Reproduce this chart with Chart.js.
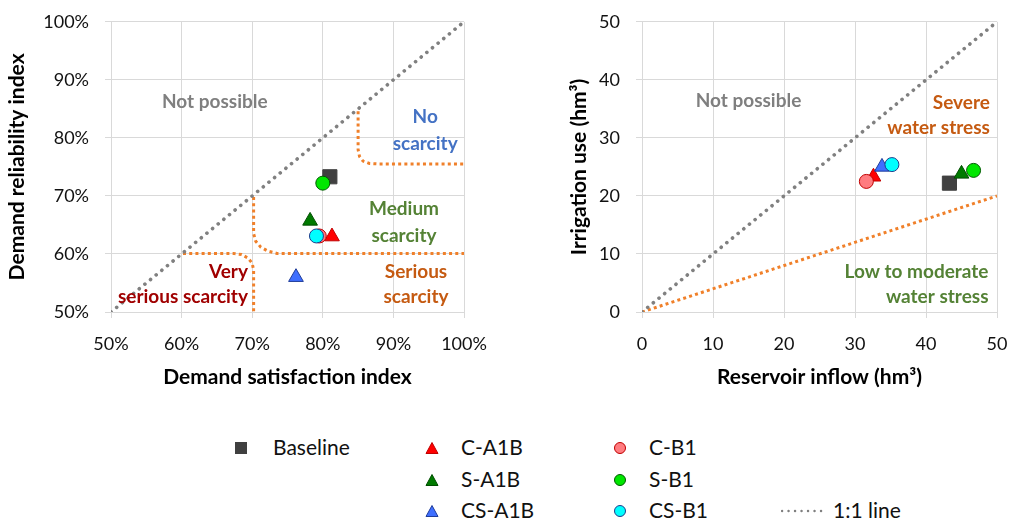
<!DOCTYPE html>
<html>
<head>
<meta charset="utf-8">
<script src="https://cdn.jsdelivr.net/npm/chart.js@4"></script>
<style>
  body { margin: 0; background: #fff; font-family: Lato, sans-serif; }
  #wrap { position: relative; width: 1011px; height: 520px; overflow: hidden; }
  .box { position: absolute; top: -5px; height: 405px; }
  #leftBox { left: 0; width: 505px; }
  #rightBox { left: 505px; width: 520px; }
  .leg { position: absolute; font-size: 21px; color: #111; line-height: 22px; white-space: nowrap; }
  .leg svg { position: absolute; }
</style>
</head>
<body>
<div id="wrap">
  <div class="box" id="leftBox"><canvas id="leftChart"></canvas></div>
  <div class="box" id="rightBox"><canvas id="rightChart"></canvas></div>
  <div id="legend"></div>
</div>
<script>
// scenarios
const seriesNames = ["Baseline", "C-A1B", "S-A1B", "CS-A1B", "C-B1", "S-B1", "CS-B1"];
// left panel (%)
const satisfaction = [81.0, 81.3, 78.2, 76.2, 79.5, 80.0, 79.1];
const reliability = [73.3, 63.0, 65.7, 56.0, 63.1, 72.2, 63.1];
// right panel (hm3)
const inflow = [43.3, 32.6, 45.0, 33.8, 31.6, 46.7, 35.2];
const irrigation = [22.2, 23.3, 23.8, 25.0, 22.5, 24.4, 25.4];

const pctTicks = [50, 60, 70, 80, 90, 100];
const hmTicks = [0, 10, 20, 30, 40, 50];

// boundary lines, left panel
const oneToOneLeft = [[50, 50], [100, 100]];
const noScarcityEdge = [[85, 84.6], [85, 78], [85.2, 76.8], [85.7, 76.0], [86.6, 75.6], [88, 75.5], [100, 75.5]];
const mediumEdge = [[70.2, 69.8], [70.2, 63.5], [70.5, 62.2], [71.2, 61.2], [72.2, 60.5], [73.5, 60.1], [100, 60.1]];
const verySeriousEdge = [[60.2, 60.1], [67.3, 60.1], [68.5, 59.9], [69.4, 59.3], [70.0, 58.4], [70.2, 57.2], [70.2, 50]];
// boundary lines, right panel
const oneToOneRight = [[0, 0], [50, 50]];
const stressEdge = [[0, 0], [50, 20]];

// marker styles
const styles = [
  { shape: "rect", fill: "#404040", stroke: "#404040", r: 10 },
  { shape: "triangle", fill: "#ff0000", stroke: "#c00000", r: 8.5 },
  { shape: "triangle", fill: "#007a00", stroke: "#004d00", r: 8.5 },
  { shape: "triangle", fill: "#3f6fff", stroke: "#1f3c99", r: 8.5 },
  { shape: "circle", fill: "#ff7c80", stroke: "#c00000", r: 7 },
  { shape: "circle", fill: "#00e600", stroke: "#005a00", r: 7 },
  { shape: "circle", fill: "#00ffff", stroke: "#1f3c8c", r: 7 }
];

const toPts = arr => arr.map(p => ({ x: p[0], y: p[1] }));

function pointSets(xs, ys) {
  return seriesNames.map((name, i) => ({
    label: name,
    data: [{ x: xs[i], y: ys[i] }],
    pointStyle: styles[i].shape,
    pointRadius: styles[i].r,
    pointHoverRadius: styles[i].r,
    backgroundColor: styles[i].fill,
    borderColor: styles[i].stroke,
    borderWidth: 1,
    order: 20 - i
  }));
}

function lineSet(pts, color, dash, width, cap) {
  return {
    data: toPts(pts),
    showLine: true,
    pointRadius: 0,
    borderColor: color,
    borderWidth: width,
    borderDash: dash,
    borderCapStyle: cap,
    fill: false,
    order: 100
  };
}

const grayDots = ["#808080", [0.1, 7.2], 3.6, "round"];
const orangeDots = ["#f0802a", [3, 3.2], 3, "butt"];

const regionText = {
  id: "regionText",
  afterDatasetsDraw(chart, args, opts) {
    const { ctx, scales } = chart;
    ctx.save();
    ctx.font = "bold 19px Lato";
    ctx.textBaseline = "middle";
    for (const t of opts.items) {
      ctx.fillStyle = t.color;
      ctx.textAlign = t.align || "center";
      ctx.fillText(t.text, scales.x.getPixelForValue(t.x), scales.y.getPixelForValue(t.y));
    }
    ctx.restore();
  }
};

function baseOptions(cfg) {
  const tickFont = { family: "Lato", size: 18 };
  const titleFont = { family: "Lato", size: 21, weight: "bold" };
  return {
    responsive: true,
    maintainAspectRatio: false,
    animation: false,
    layout: { padding: cfg.padding },
    plugins: {
      legend: { display: false },
      tooltip: { enabled: false },
      regionText: { items: cfg.labels }
    },
    scales: {
      x: {
        type: "linear",
        min: cfg.xTicks[0], max: cfg.xTicks[cfg.xTicks.length - 1],
        afterBuildTicks: s => { s.ticks = cfg.xTicks.map(v => ({ value: v })); },
        afterFit: s => { s.height = 80; },
        grid: { color: "#d9d9d9", tickLength: 6, tickColor: "#d9d9d9" },
        border: { color: "#d9d9d9" },
        ticks: { font: tickFont, color: "#111", padding: 15, maxRotation: 0, callback: cfg.fmt },
        title: { display: true, text: cfg.xTitle, font: titleFont, color: "#000", padding: { top: 0, bottom: 2 } }
      },
      y: {
        type: "linear",
        min: cfg.yTicks[0], max: cfg.yTicks[cfg.yTicks.length - 1],
        afterBuildTicks: s => { s.ticks = cfg.yTicks.map(v => ({ value: v })); },
        afterFit: s => { s.width = cfg.yWidth; },
        grid: { color: "#d9d9d9", tickLength: 6, tickColor: "#d9d9d9" },
        border: { color: "#d9d9d9" },
        ticks: { font: tickFont, color: "#111", padding: 16, callback: cfg.fmt },
        title: { display: true, text: cfg.yTitle, font: titleFont, color: "#000", padding: { top: 2, bottom: 0 } }
      }
    }
  };
}

new Chart(document.getElementById("leftChart"), {
  type: "scatter",
  data: {
    datasets: [
      ...pointSets(satisfaction, reliability),
      lineSet(oneToOneLeft, ...grayDots),
      lineSet(noScarcityEdge, ...orangeDots),
      lineSet(mediumEdge, ...orangeDots),
      lineSet(verySeriousEdge, ...orangeDots)
    ]
  },
  options: baseOptions({
    padding: { left: 3, right: 41, top: 10, bottom: 8 },
    yWidth: 108,
    xTicks: pctTicks, yTicks: pctTicks,
    fmt: v => v + "%",
    xTitle: "Demand satisfaction index",
    yTitle: "Demand reliability index",
    labels: [
      { text: "Not possible", x: 64.7, y: 86.2, color: "#7f7f7f" },
      { text: "No", x: 94.5, y: 83.6, color: "#4472c4" },
      { text: "scarcity", x: 94.5, y: 79.0, color: "#4472c4" },
      { text: "Medium", x: 91.5, y: 67.8, color: "#548235" },
      { text: "scarcity", x: 91.5, y: 63.1, color: "#548235" },
      { text: "Serious", x: 93.2, y: 56.9, color: "#c55a11" },
      { text: "scarcity", x: 93.2, y: 52.6, color: "#c55a11" },
      { text: "Very", x: 69.4, y: 56.9, color: "#a00000", align: "right" },
      { text: "serious scarcity", x: 69.4, y: 52.6, color: "#a00000", align: "right" }
    ]
  }),
  plugins: [regionText]
});

new Chart(document.getElementById("rightChart"), {
  type: "scatter",
  data: {
    datasets: [
      ...pointSets(inflow, irrigation),
      lineSet(oneToOneRight, ...grayDots),
      lineSet(stressEdge, ...orangeDots)
    ]
  },
  options: baseOptions({
    padding: { left: 60, right: 28, top: 10, bottom: 8 },
    yWidth: 77,
    xTicks: hmTicks, yTicks: hmTicks,
    fmt: v => v,
    xTitle: "Reservoir inflow (hm\u00b3)",
    yTitle: "Irrigation use (hm\u00b3)",
    labels: [
      { text: "Not possible", x: 15.0, y: 36.3, color: "#7f7f7f" },
      { text: "Severe", x: 49.0, y: 36.1, color: "#c55a11", align: "right" },
      { text: "water stress", x: 49.0, y: 31.8, color: "#c55a11", align: "right" },
      { text: "Low to moderate", x: 48.8, y: 6.95, color: "#548235", align: "right" },
      { text: "water stress", x: 48.8, y: 2.6, color: "#548235", align: "right" }
    ]
  }),
  plugins: [regionText]
});

// legend below both panels
const legendSlots = [
  [241, 448], [432, 448], [620, 448],
  null,       [432, 480], [620, 480],
  null,       [432, 511], [620, 511]
];
const legendOrder = [0, 1, 4, -1, 2, 5, -1, 3, 6];
const legend = document.getElementById("legend");

function markerSvg(st) {
  let shape;
  if (st.shape === "rect") {
    shape = '<rect x="1" y="1" width="12" height="12" fill="' + st.fill + '"/>';
  } else if (st.shape === "triangle") {
    shape = '<polygon points="7,1.5 13,12.5 1,12.5" fill="' + st.fill + '" stroke="' + st.stroke + '" stroke-width="1"/>';
  } else {
    shape = '<circle cx="7" cy="7" r="5.5" fill="' + st.fill + '" stroke="' + st.stroke + '" stroke-width="1"/>';
  }
  return '<svg width="14" height="14" style="left:-7px;top:-7px">' + shape + '</svg>';
}

legendOrder.forEach((idx, k) => {
  if (idx < 0) return;
  const [cx, cy] = legendSlots[k];
  const item = document.createElement("div");
  item.className = "leg";
  item.style.left = cx + "px";
  item.style.top = cy + "px";
  const textOffset = idx === 0 ? 32 : 29;
  item.innerHTML = markerSvg(styles[idx]) +
    '<span style="position:absolute;left:' + textOffset + 'px;top:-12px">' + seriesNames[idx] + '</span>';
  legend.appendChild(item);
});

const lineItem = document.createElement("div");
lineItem.className = "leg";
lineItem.style.left = "781px";
lineItem.style.top = "511px";
lineItem.innerHTML = '<svg width="48" height="6" style="left:0;top:-3px">' +
  '<line x1="1" y1="3" x2="46" y2="3" stroke="#808080" stroke-width="2.4" stroke-dasharray="0.1 6.4" stroke-linecap="round"/></svg>' +
  '<span style="position:absolute;left:52px;top:-12px">1:1 line</span>';
legend.appendChild(lineItem);
</script>
</body>
</html>
